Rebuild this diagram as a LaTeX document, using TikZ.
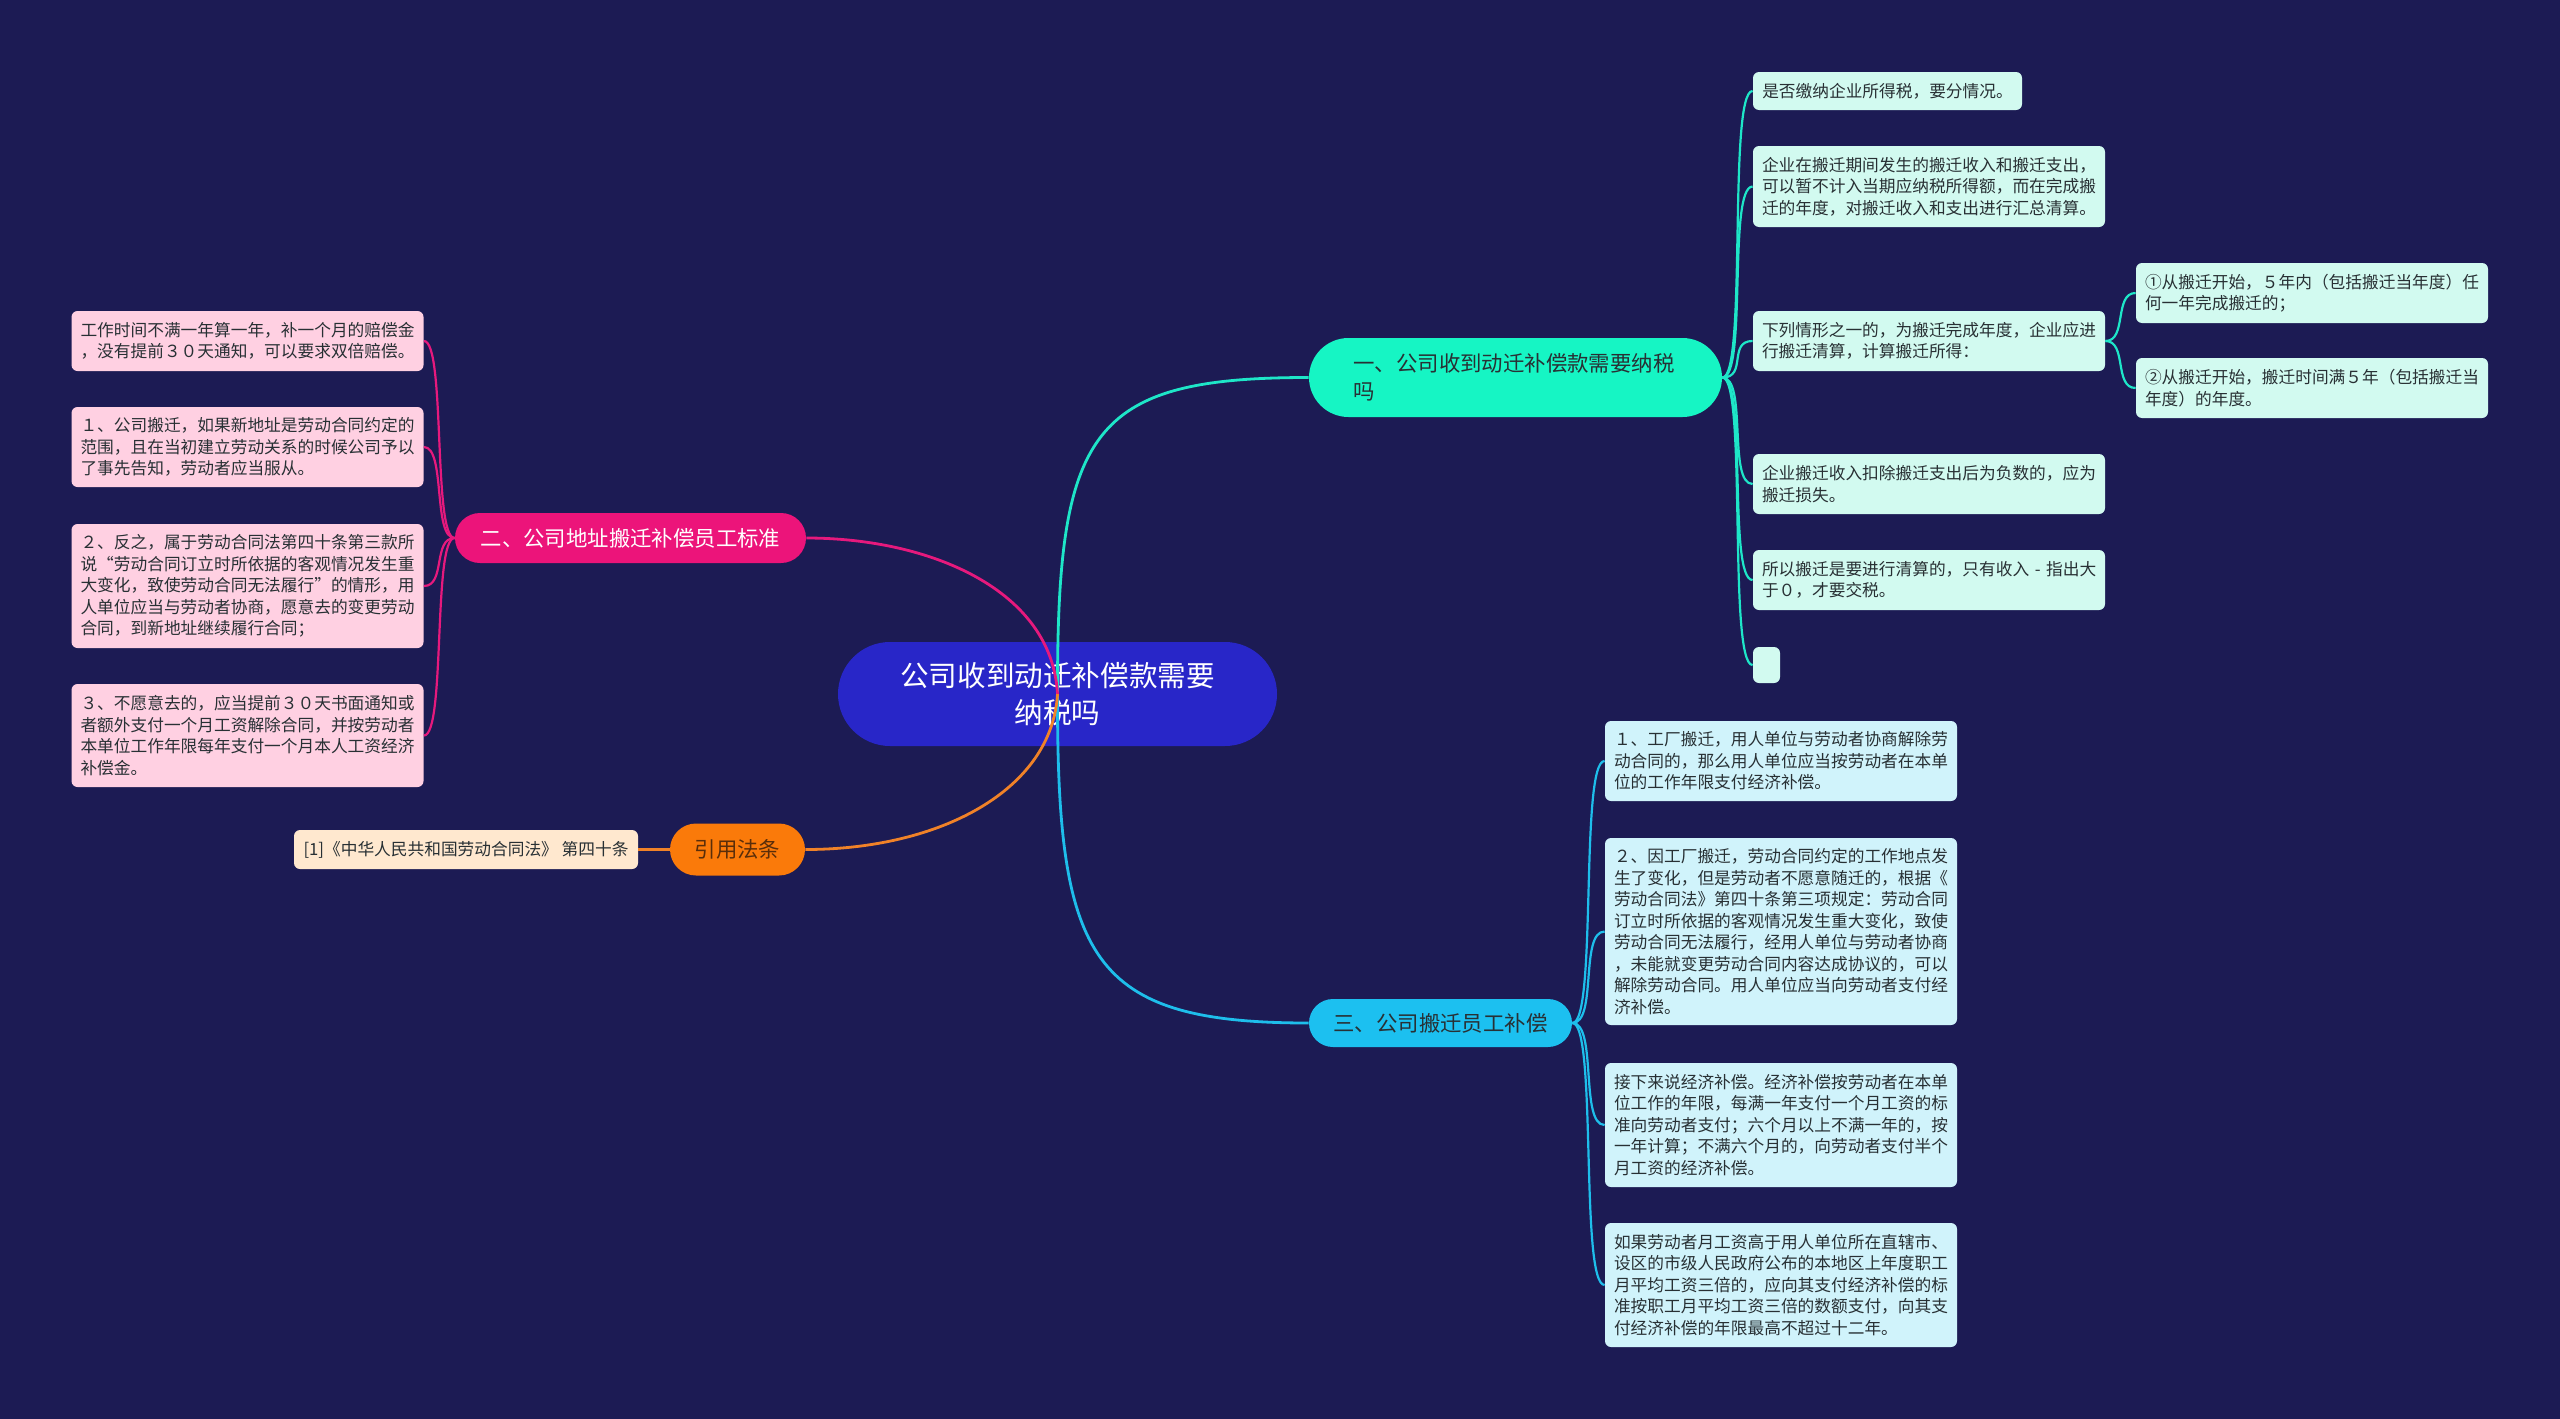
\documentclass[tikz,border=0pt]{standalone}
\usepackage{fontspec}
\setmainfont{Noto Sans CJK SC}
\definecolor{bgc}{RGB}{28,27,84}
\definecolor{rootc}{RGB}{40,38,200}
\definecolor{bonec}{RGB}{22,245,196}
\definecolor{lonec}{RGB}{30,230,200}
\definecolor{conec}{RGB}{210,250,240}
\definecolor{btwoc}{RGB}{236,20,122}
\definecolor{ltwoc}{RGB}{230,25,125}
\definecolor{ctwoc}{RGB}{255,208,226}
\definecolor{bthreec}{RGB}{250,122,10}
\definecolor{lthreec}{RGB}{240,130,40}
\definecolor{cthreec}{RGB}{255,232,207}
\definecolor{bfourc}{RGB}{28,192,240}
\definecolor{lfourc}{RGB}{30,190,235}
\definecolor{cfourc}{RGB}{208,243,251}
\definecolor{darktxt}{RGB}{40,48,52}
\begin{document}
\begin{tikzpicture}[x=0.5pt,y=-0.5pt,
  rootbox/.style={fill=rootc,text=white,minimum width=219.5pt,minimum height=52pt,
    rounded corners=26pt,inner sep=0pt,align=center,font=\fontsize{14.3pt}{18.3pt}\selectfont},
  branchbox/.style={inner sep=0pt,font=\fontsize{10.7pt}{14pt}\selectfont},
  leafbox/.style={rounded corners=3pt,inner xsep=4.5pt,inner ysep=0pt,text=darktxt,
    font=\fontsize{8.35pt}{10.75pt}\selectfont},
  leaftext/.style={leafbox,align=left,text width=167pt,minimum width=176pt},
  rootline/.style={line width=1.4pt},
  leafline/.style={line width=1.1pt}
]
\useasboundingbox (0,0) rectangle (2560,1419);
\fill[bgc] (0,0) rectangle (2560,1419);

% root
\node[rootbox] (root) at (1057.5,694) {公司收到动迁补偿款需要\\纳税吗};

% branches
\node[branchbox,fill=bonec,text=darktxt,minimum width=206.5pt,minimum height=39.5pt,
  rounded corners=19.75pt,align=left,text width=162pt] (b1) at (1515.5,377.5)
  {一、公司收到动迁补偿款需要纳税\\吗};
\node[branchbox,fill=btwoc,text=white,minimum width=175.5pt,minimum height=25pt,
  rounded corners=12.5pt] (b2) at (630.5,538) {二、公司地址搬迁补偿员工标准};
\node[branchbox,fill=bthreec,text={rgb,255:red,90;green,46;blue,10},minimum width=67.5pt,minimum height=26pt,
  rounded corners=13pt] (b3) at (737.5,849.5) {引用法条};
\node[branchbox,fill=bfourc,text=darktxt,minimum width=131.5pt,minimum height=24pt,
  rounded corners=12pt] (b4) at (1440.5,1023) {三、公司搬迁员工补偿};

% branch 1 leaves
\node[leafbox,fill=conec,minimum width=134.5pt,minimum height=19pt] (c1) at (1887.5,91)
  {是否缴纳企业所得税，要分情况。};
\node[leaftext,fill=conec,minimum height=40.5pt] (c2) at (1929,186.5)
  {企业在搬迁期间发生的搬迁收入和搬迁支出，\\可以暂不计入当期应纳税所得额，而在完成搬\\迁的年度，对搬迁收入和支出进行汇总清算。};
\node[leaftext,fill=conec,minimum height=30pt] (c3) at (1929,341)
  {下列情形之一的，为搬迁完成年度，企业应进\\行搬迁清算，计算搬迁所得：};
\node[leaftext,fill=conec,minimum height=30pt] (c3a) at (2312,293)
  {①从搬迁开始，５年内（包括搬迁当年度）任\\何一年完成搬迁的；};
\node[leaftext,fill=conec,minimum height=30pt] (c3b) at (2312,388)
  {②从搬迁开始，搬迁时间满５年（包括搬迁当\\年度）的年度。};
\node[leaftext,fill=conec,minimum height=30pt] (c4) at (1929,484)
  {企业搬迁收入扣除搬迁支出后为负数的，应为\\搬迁损失。};
\node[leaftext,fill=conec,minimum height=30pt] (c5) at (1929,580)
  {\mbox{所以搬迁是要进行清算的，只有收入 - 指出大}\\于０，才要交税。};
\node[leafbox,fill=conec,minimum width=13.5pt,minimum height=18pt,inner xsep=0pt] (c6) at (1766.5,665) {};

% branch 2 leaves
\node[leaftext,fill=ctwoc,minimum height=30pt,minimum width=175.5pt] (d1) at (247.5,341)
  {工作时间不满一年算一年，补一个月的赔偿金\\，没有提前３０天通知，可以要求双倍赔偿。};
\node[leaftext,fill=ctwoc,minimum height=40pt,minimum width=175.5pt] (d2) at (247.5,447)
  {１、公司搬迁，如果新地址是劳动合同约定的\\范围，且在当初建立劳动关系的时候公司予以\\了事先告知，劳动者应当服从。};
\node[leaftext,fill=ctwoc,minimum height=62pt,minimum width=175.5pt] (d3) at (247.5,586)
  {２、反之，属于劳动合同法第四十条第三款所\\说“劳动合同订立时所依据的客观情况发生重\\大变化，致使劳动合同无法履行”的情形，用\\人单位应当与劳动者协商，愿意去的变更劳动\\合同，到新地址继续履行合同；};
\node[leaftext,fill=ctwoc,minimum height=51.5pt,minimum width=175.5pt] (d4) at (247.5,735.5)
  {３、不愿意去的，应当提前３０天书面通知或\\者额外支付一个月工资解除合同，并按劳动者\\本单位工作年限每年支付一个月本人工资经济\\补偿金。};

% branch 3 leaf
\node[leafbox,fill=cthreec,minimum width=172pt,minimum height=19.5pt] (f1) at (466,849.5)
  {[1]《中华人民共和国劳动合同法》 第四十条};

% branch 4 leaves
\node[leaftext,fill=cfourc,minimum height=40pt] (e1) at (1781,761)
  {１、工厂搬迁，用人单位与劳动者协商解除劳\\动合同的，那么用人单位应当按劳动者在本单\\位的工作年限支付经济补偿。};
\node[leaftext,fill=cfourc,minimum height=93.5pt] (e2) at (1781,931.5)
  {２、因工厂搬迁，劳动合同约定的工作地点发\\生了变化，但是劳动者不愿意随迁的，根据《\\劳动合同法》第四十条第三项规定：劳动合同\\订立时所依据的客观情况发生重大变化，致使\\劳动合同无法履行，经用人单位与劳动者协商\\，未能就变更劳动合同内容达成协议的，可以\\解除劳动合同。用人单位应当向劳动者支付经\\济补偿。};
\node[leaftext,fill=cfourc,minimum height=62pt] (e3) at (1781,1125)
  {接下来说经济补偿。经济补偿按劳动者在本单\\位工作的年限，每满一年支付一个月工资的标\\准向劳动者支付；六个月以上不满一年的，按\\一年计算；不满六个月的，向劳动者支付半个\\月工资的经济补偿。};
\node[leaftext,fill=cfourc,minimum height=62pt] (e4) at (1781,1285)
  {如果劳动者月工资高于用人单位所在直辖市、\\设区的市级人民政府公布的本地区上年度职工\\月平均工资三倍的，应向其支付经济补偿的标\\准按职工月平均工资三倍的数额支付，向其支\\付经济补偿的年限最高不超过十二年。};

% root connectors
\draw[rootline,lonec] (root.center) .. controls (1057,430) and (1090,377.5) .. (b1.west);
\draw[rootline,lfourc] (root.center) .. controls (1057,960) and (1090,1023) .. (b4.west);
\draw[rootline,ltwoc] (root.center) .. controls (1052,590) and (930,538) .. (b2.east);
\draw[rootline,lthreec] (root.center) .. controls (1052,790) and (940,849.5) .. (b3.east);

% branch 1 connectors
\foreach \n in {c1,c2,c3,c4,c5,c6}
  \draw[leafline,lonec] (b1.east) .. controls +(25,0) and +(-25,0) .. (\n.west);
\foreach \n in {c3a,c3b}
  \draw[leafline,lonec] (c3.east) .. controls +(22,0) and +(-22,0) .. (\n.west);

% branch 2 connectors
\foreach \n in {d1,d2,d3,d4}
  \draw[leafline,ltwoc] (b2.west) .. controls +(-22,0) and +(22,0) .. (\n.east);

% branch 3 connector
\draw[leafline,lthreec] (b3.west) -- (f1.east);

% branch 4 connectors
\foreach \n in {e1,e2,e3,e4}
  \draw[leafline,lfourc] (b4.east) .. controls +(25,0) and +(-25,0) .. (\n.west);
\end{tikzpicture}
\end{document}
